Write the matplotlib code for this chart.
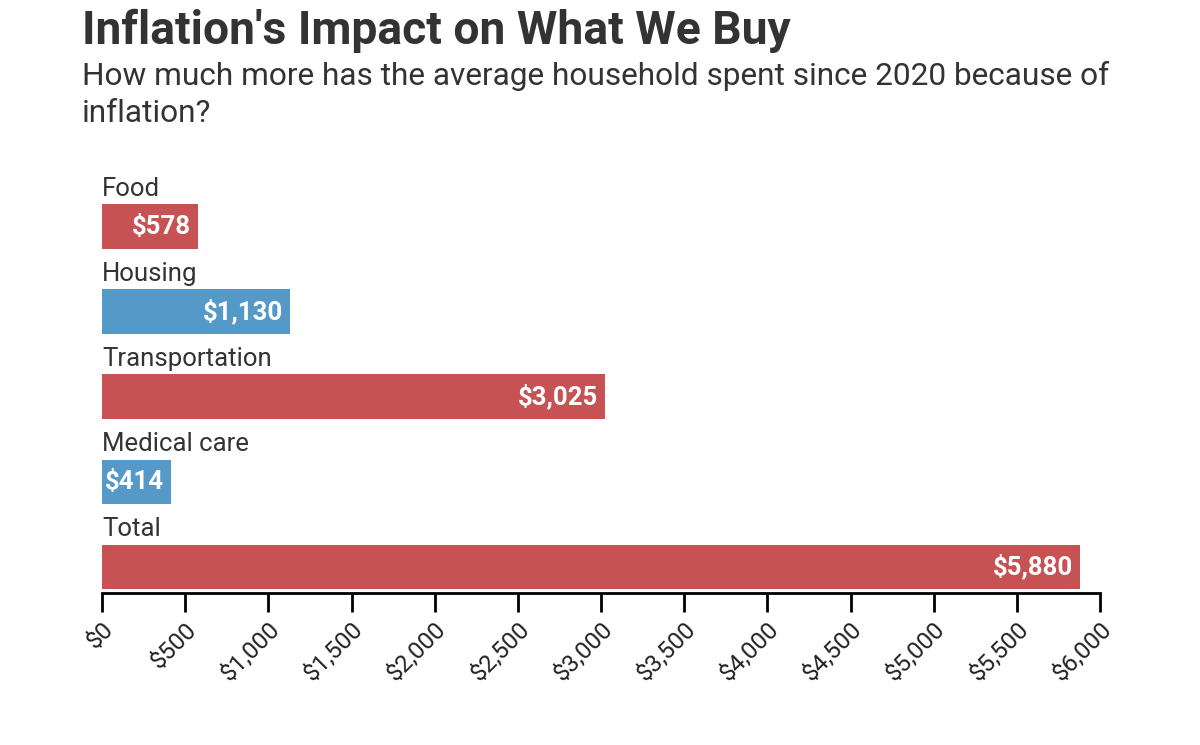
import matplotlib
matplotlib.use("Agg")
import matplotlib.pyplot as plt
from matplotlib.ticker import FuncFormatter

categories = ["Food", "Housing", "Transportation", "Medical care", "Total"]
values = [578, 1130, 3025, 414, 5880]
bar_colors = ["#c65254", "#5499c7", "#c65254", "#5499c7", "#c65254"]
ticks = list(range(0, 6001, 500))

plt.rcParams['font.family'] = ['Roboto', 'DejaVu Sans']

fig = plt.figure(figsize=(12, 7.45), dpi=100)
W, H = 1200, 745
ax_left, ax_right = 102, 1100
ax_top, ax_bottom = 163, 593
ax = fig.add_axes([ax_left / W, 1 - ax_bottom / H, (ax_right - ax_left) / W, (ax_bottom - ax_top) / H])

ypos = list(range(len(categories)))
ax.barh(ypos, values, height=0.52, color=bar_colors)
ax.set_xlim(0, 6000)
ax.set_ylim(4.31, -0.747)

for i, (c, v) in enumerate(zip(categories, values)):
    ax.text(0, i - 0.44, c, ha="left", va="center", fontsize=18.5, color="#333333")
    ax.text(v - 40, i, f"${v:,}", ha="right", va="center", fontsize=18.5,
            fontweight="bold", color="white")

for s in ["top", "right", "left"]:
    ax.spines[s].set_visible(False)
ax.spines["bottom"].set_linewidth(2)
ax.spines["bottom"].set_color("black")
ax.set_yticks([])
ax.set_xticks(ticks)
ax.xaxis.set_major_formatter(FuncFormatter(lambda x, p: f"${int(x):,}"))
ax.tick_params(axis="x", length=14, width=2, colors="black", labelsize=17.5, pad=4)
for lab in ax.get_xticklabels():
    lab.set_rotation(45)
    lab.set_ha("right")
    lab.set_va("top")
    lab.set_rotation_mode("anchor")
    lab.set_color("#222222")

fig.text(82 / W, 1 - 31 / H, "Inflation's Impact on What We Buy", fontsize=33.3,
         fontweight="bold", color="#333333", ha="left", va="center")
fig.text(82 / W, 1 - 76 / H, "How much more has the average household spent since 2020 because of",
         fontsize=22.8, color="#333333", ha="left", va="center")
fig.text(82 / W, 1 - 113 / H, "inflation?",
         fontsize=22.8, color="#333333", ha="left", va="center")

fig.savefig("out.png", dpi=100, facecolor="white")
